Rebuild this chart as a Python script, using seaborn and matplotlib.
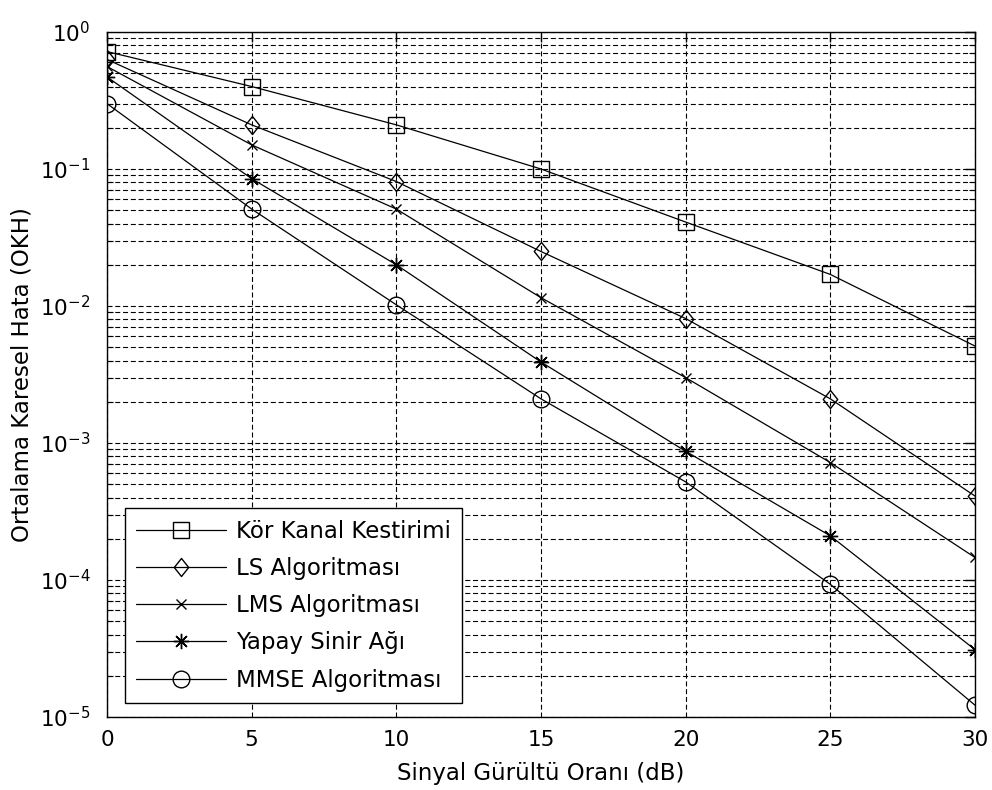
import numpy as np
import pandas as pd
import matplotlib
matplotlib.use("Agg")
import matplotlib.pyplot as plt
from matplotlib.path import Path
import seaborn as sns

snr = [0, 5, 10, 15, 20, 25, 30]
kor_kanal = [0.72, 0.40, 0.21, 0.10, 0.041, 0.017, 0.0051]
ls_alg = [0.63, 0.21, 0.081, 0.025, 0.0081, 0.0021, 0.00041]
lms_alg = [0.56, 0.15, 0.051, 0.0115, 0.0030, 0.00072, 0.000146]
ysa = [0.47, 0.085, 0.020, 0.0039, 0.00087, 0.00021, 0.000031]
mmse = [0.30, 0.051, 0.0102, 0.0021, 0.00052, 0.000093, 0.0000122]

labels = ["Kör Kanal Kestirimi", "LS Algoritması", "LMS Algoritması",
          "Yapay Sinir Ağı", "MMSE Algoritması"]
series = [kor_kanal, ls_alg, lms_alg, ysa, mmse]

diamond = Path([(0, 1), (0.8, 0), (0, -1), (-0.8, 0), (0, 1)],
               [Path.MOVETO, Path.LINETO, Path.LINETO, Path.LINETO, Path.CLOSEPOLY])
markers = ["s", diamond, "x", (8, 2, 0), "o"]
msizes = [12, 13, 6.5, 11, 12]

xticks = [0, 5, 10, 15, 20, 25, 30]

sns.set_style("white")
FS = 15.5
LFS = 16.5
plt.rcParams["font.family"] = ["DejaVu Sans"]
plt.rcParams["mathtext.default"] = "regular"
plt.rcParams["text.color"] = "black"
plt.rcParams["axes.labelcolor"] = "black"
plt.rcParams["xtick.color"] = "black"
plt.rcParams["ytick.color"] = "black"

fig = plt.figure(figsize=(9.92, 7.90), dpi=100)
ax = fig.add_axes([107/992, 1-717/790, (975-107)/992, (717-32)/790])

df = pd.DataFrame({
    "snr": np.tile(snr, len(series)),
    "val": np.concatenate([np.array(s, dtype=float) for s in series]),
    "method": np.repeat(labels, len(snr)),
})

for lab, m, ms in zip(labels, markers, msizes):
    sub = df[df["method"] == lab]
    sns.lineplot(data=sub, x="snr", y="val", ax=ax, color="black",
                 marker=m, markersize=ms, markerfacecolor="none",
                 markeredgecolor="black", markeredgewidth=1.0,
                 linewidth=0.9, label=lab, zorder=3)

ax.set_yscale("log")
ax.set_xlim(0, 30)
ax.set_ylim(1e-5, 1)
ax.set_xticks(xticks)
ax.set_xticklabels([str(t) for t in xticks])

ax.grid(True, which="major", axis="x", color="black", linestyle=(0, (4.5, 2.5)), linewidth=0.8)
ax.grid(True, which="both", axis="y", color="black", linestyle=(0, (4.5, 2.5)), linewidth=0.8)
ax.set_axisbelow(True)

for sp in ax.spines.values():
    sp.set_color("black")
    sp.set_linewidth(1.0)

ax.tick_params(axis="both", which="major", direction="in", top=True, right=True,
               length=7, width=1, color="black", labelsize=FS, labelcolor="black")
ax.tick_params(axis="x", which="major", pad=9)
ax.tick_params(axis="y", which="major", pad=12)
ax.tick_params(axis="y", which="minor", direction="in", left=True, right=True,
               length=4, width=0.8, color="black")
ax.tick_params(axis="x", which="minor", bottom=False, top=False)

ax.set_xlabel("Sinyal Gürültü Oranı (dB)", fontsize=LFS, color="black", labelpad=9)
ax.set_ylabel("Ortalama Karesel Hata (OKH)", fontsize=LFS, color="black", labelpad=4)

leg = ax.legend(loc="lower left", bbox_to_anchor=(0.0207, 0.0204), borderaxespad=0,
                fontsize=LFS, handlelength=3.9, labelspacing=0.62, fancybox=False,
                framealpha=1, edgecolor="black", borderpad=0.5, handletextpad=0.45,
                labelcolor="black")
leg.get_frame().set_linewidth(1.0)

fig.savefig("out.png", dpi=100)
